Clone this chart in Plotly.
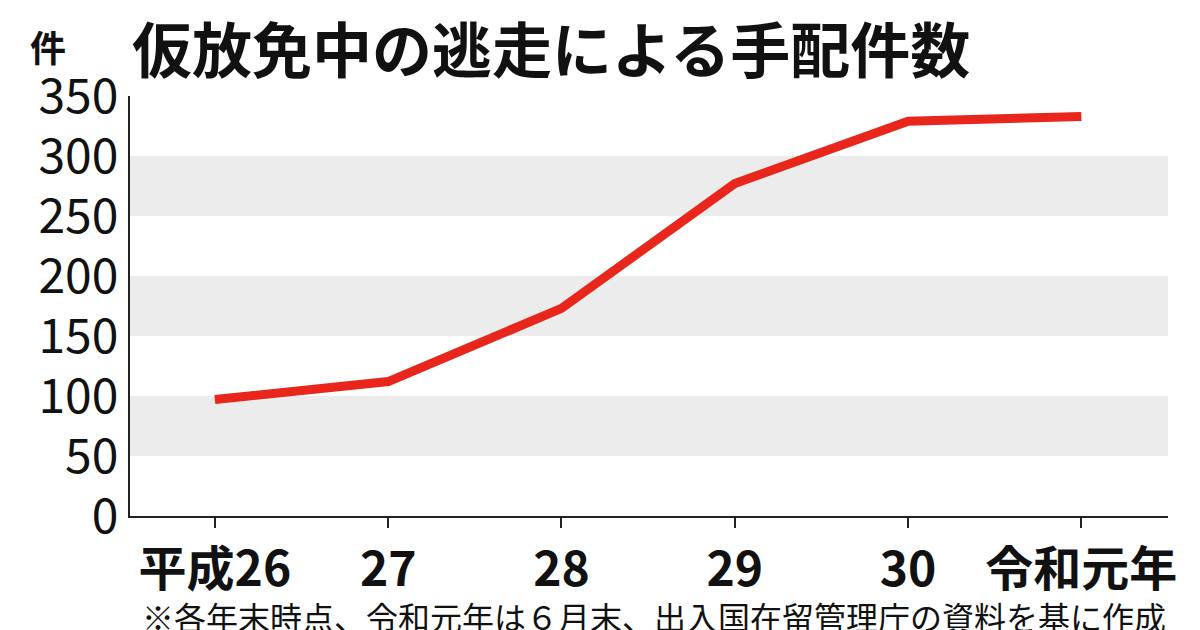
import plotly.graph_objects as go

categories = ["平成26", "27", "28", "29", "30", "令和元年"]
values = [97, 112, 173, 277, 329, 333]
y_ticks = [0, 50, 100, 150, 200, 250, 300, 350]
bands = [(50, 100), (150, 200), (250, 300)]

F = "Noto Sans CJK JP"
fig = go.Figure()
for a, b in bands:
    fig.add_shape(type="rect", xref="paper", yref="y", x0=0, x1=1, y0=a, y1=b,
                  fillcolor="#ececec", line_width=0, layer="below")
fig.add_trace(go.Scatter(x=list(range(len(categories))), y=values, mode="lines",
                         line=dict(color="#e8261c", width=9), hoverinfo="skip"))
fig.update_layout(
    width=1200, height=630, margin=dict(l=122, r=40, t=88, b=122),
    paper_bgcolor="white", plot_bgcolor="white", showlegend=False,
    font=dict(family=F, color="#111"),
    xaxis=dict(range=[-0.49, 5.5], tickvals=list(range(len(categories))), ticktext=categories,
               showgrid=False, zeroline=False, showline=True, linecolor="#222", linewidth=2,
               ticks="outside", ticklen=10, tickwidth=2, tickcolor="#222",
               tickfont=dict(size=48, family=F, weight="bold")),
    yaxis=dict(range=[0, 350], tickvals=y_ticks, showgrid=False, zeroline=False,
               showline=True, linecolor="#222", linewidth=2, ticks="",
               tickfont=dict(size=48, family=F)),
    annotations=[
        dict(text="仮放免中の逃走による手配件数", xref="paper", yref="paper", x=0.0, y=1.0,
             xanchor="left", yanchor="bottom", yshift=4, showarrow=False,
             font=dict(size=60, family=F, weight="bold")),
        dict(text="件", xref="paper", yref="paper", x=0, y=1.0, xshift=-82,
             xanchor="center", yanchor="bottom", yshift=22, showarrow=False,
             font=dict(size=36, family=F, weight="bold")),
        dict(text="※各年末時点、令和元年は６月末、出入国在留管理庁の資料を基に作成",
             xref="paper", yref="paper", x=1.0, y=0, yshift=-100, xanchor="right", yanchor="middle",
             showarrow=False, font=dict(size=32, family=F)),
    ],
)
fig.write_html("out.html")
